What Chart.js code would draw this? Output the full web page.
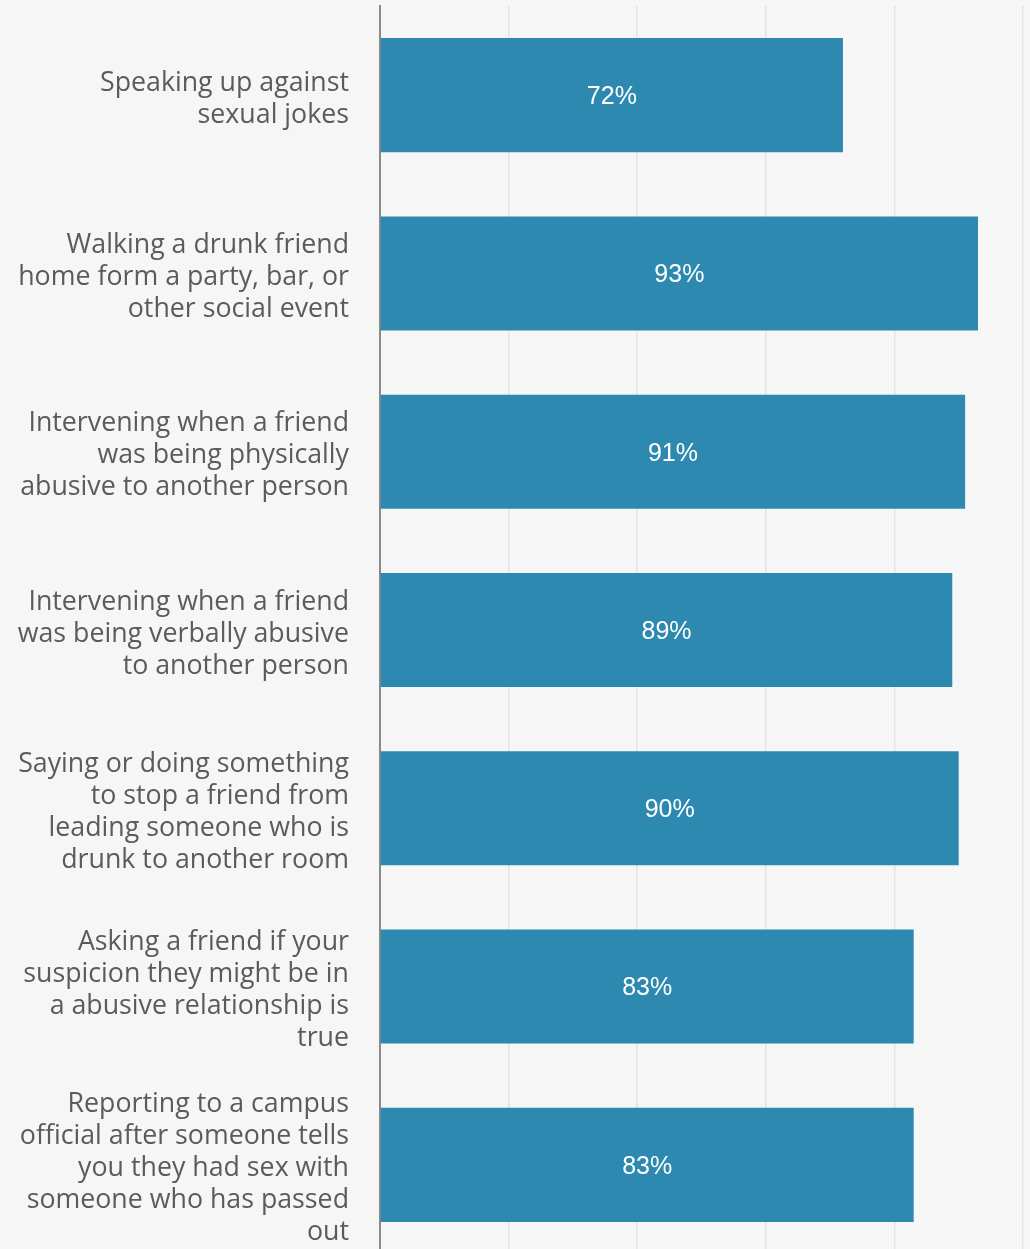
<!DOCTYPE html>
<html>
<head>
<meta charset="utf-8">
<script src="https://cdn.jsdelivr.net/npm/chart.js@4/dist/chart.umd.min.js"></script>
<style>
  html, body { margin: 0; padding: 0; background: #f6f6f6; overflow: hidden; }
  #wrap { width: 1030px; height: 1254px; position: relative; }
</style>
</head>
<body>
<div id="wrap"><canvas id="mycanvas"></canvas></div>
<script>
var labels = [
    ["Speaking up against", "sexual jokes"],
    ["Walking a drunk friend", "home form a party, bar, or", "other social event"],
    ["Intervening when a friend", "was being physically", "abusive to another person"],
    ["Intervening when a friend", "was being verbally abusive", "to another person"],
    ["Saying or doing something", "to stop a friend from", "leading someone who is", "drunk to another room"],
    ["Asking a friend if your", "suspicion they might be in", "a abusive relationship is", "true"],
    ["Reporting to a campus", "official after someone tells", "you they had sex with", "someone who has passed", "out"]
];
var percent = [72, 93, 91, 89, 90, 83, 83];

// white % text in the middle of every bar
var barText = {
    id: 'barText',
    afterDatasetsDraw: function(chart){
        var ctx = chart.ctx;
        var meta = chart.getDatasetMeta(0);
        ctx.save();
        ctx.fillStyle = '#ffffff';
        ctx.font = '25px "Liberation Sans", Arial, sans-serif';
        ctx.textAlign = 'center';
        ctx.textBaseline = 'middle';
        meta.data.forEach(function(bar, i){
            var mid = (bar.x + bar.base) / 2;
            ctx.fillText(percent[i] + '%', mid, bar.y + 2);
        });
        ctx.restore();
    }
};

var ctx = document.getElementById("mycanvas").getContext('2d');
var chart = new Chart(ctx, {
    type: 'bar',
    data: {
        labels: labels,
        datasets: [{
            data: percent,
            backgroundColor: '#2d89b0',
            borderWidth: 0,
            barPercentage: 0.64,
            categoryPercentage: 1
        }]
    },
    plugins: [barText],
    options: {
        indexAxis: 'y',
        responsive: true,
        maintainAspectRatio: false,
        animation: false,
        layout: { padding: { top: 6, right: 7, bottom: 0, left: 0 } },
        plugins: {
            legend: { display: false },
            tooltip: { enabled: false }
        },
        scales: {
            x: {
                min: 0,
                max: 100,
                ticks: { display: false, stepSize: 20 },
                grid: { color: '#e3e3e3', lineWidth: 1.5, drawTicks: false },
                border: { display: false }
            },
            y: {
                afterFit: function(scale){
                    // labels may overflow top/bottom, keep the plot full height
                    scale.width = 380;
                    scale.paddingTop = 0;
                    scale.paddingBottom = 0;
                },
                ticks: {
                    autoSkip: false,
                    padding: 31,
                    labelOffset: 4,
                    color: '#5b5b5b',
                    font: { family: '"Open Sans", sans-serif', size: 26.75, lineHeight: 1.196 }
                },
                grid: { display: false, drawTicks: false },
                border: { display: true, color: '#8a8a8a', width: 2 }
            }
        }
    }
});
</script>
</body>
</html>
